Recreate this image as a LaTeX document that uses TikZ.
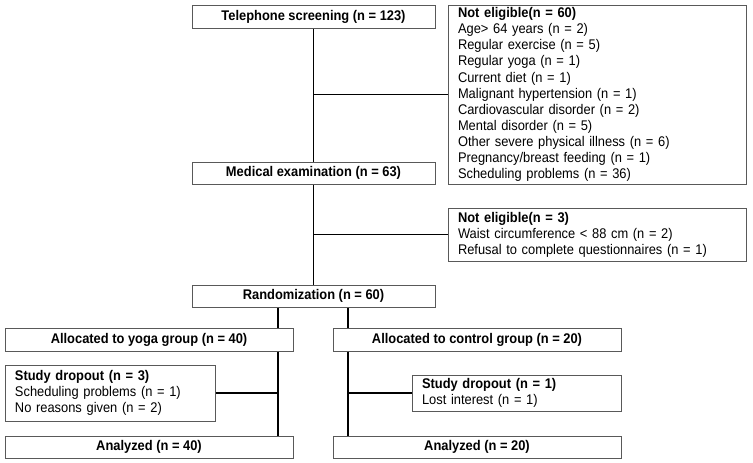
\documentclass[tikz,border=0pt]{standalone}
\usepackage{fontspec}
\setmainfont{Liberation Sans}[FakeStretch=0.92]
\begin{document}
\begin{tikzpicture}[x=1pt,y=-1pt,
  box/.style={draw=black!65, line width=1pt, rectangle, inner sep=0pt,
    font=\fontsize{14}{16.1}\selectfont, anchor=center},
  cbox/.style={box, font=\fontsize{14}{16.1}\selectfont\bfseries, align=center},
  lbox/.style={box, inner xsep=10pt, align=left},
  conn/.style={draw=black, line width=1.2pt}]
\useasboundingbox[fill=white] (0,0) rectangle (753,463);

\node[cbox, minimum width=243pt, minimum height=23pt] (tel) at (313.5,16.5) {Telephone screening (n = 123)};
\node[lbox, minimum width=298pt, minimum height=179pt, text width=278pt] (ne1) at (597,94.5)
 {\textbf{Not eligible(n = 60)}\\
  Age> 64 years (n = 2)\\
  Regular exercise (n = 5)\\
  Regular yoga (n = 1)\\
  Current diet (n = 1)\\
  Malignant hypertension (n = 1)\\
  Cardiovascular disorder (n = 2)\\
  Mental disorder (n = 5)\\
  Other severe physical illness (n = 6)\\
  Pregnancy/breast feeding (n = 1)\\
  Scheduling problems (n = 36)};
\node[cbox, minimum width=243pt, minimum height=22pt] (med) at (313.5,173) {Medical examination (n = 63)};
\node[lbox, minimum width=298pt, minimum height=53pt, text width=278pt] (ne2) at (597,234.5)
 {\textbf{Not eligible(n = 3)}\\
  Waist circumference < 88 cm (n = 2)\\
  Refusal to complete questionnaires (n = 1)};
\node[cbox, minimum width=243pt, minimum height=22pt] (rand) at (313.5,296) {Randomization (n = 60)};
\node[cbox, minimum width=288pt, minimum height=23pt] (ya) at (149,339.5) {Allocated to yoga group (n = 40)};
\node[cbox, minimum width=288pt, minimum height=23pt] (ca) at (477,339.5) {Allocated to control group (n = 20)};
\node[lbox, minimum width=210pt, minimum height=56pt, text width=190pt] (yd) at (110,393)
 {\textbf{Study dropout (n = 3)}\\
  Scheduling problems (n = 1)\\
  No reasons given (n = 2)};
\node[lbox, minimum width=209pt, minimum height=36pt, text width=189pt] (cd) at (516.5,393)
 {\textbf{Study dropout (n = 1)}\\
  Lost interest (n = 1)};
\node[cbox, minimum width=288pt, minimum height=22pt] (a40) at (149,447) {Analyzed (n = 40)};
\node[cbox, minimum width=288pt, minimum height=22pt] (a20) at (477,447) {Analyzed (n = 20)};

\coordinate (yx) at (278,0);
\coordinate (cx) at (348,0);

\draw[conn] (tel.south) -- (med.north);
\draw[conn] (ne1.west) -- (ne1.west -| tel.south);
\draw[conn] (med.south) -- (rand.north);
\draw[conn] (ne2.west) -- (ne2.west -| med.south);
\draw[conn] (yx |- rand.south) -- (yx |- ya.north);
\draw[conn] (cx |- rand.south) -- (cx |- ca.north);
\draw[conn] (yx |- ya.south) -- (yx |- a40.north);
\draw[conn] (cx |- ca.south) -- (cx |- a20.north);
\draw[conn] (yd.east) -- (yd.east -| yx);
\draw[conn] (cd.west) -- (cd.west -| cx);
\end{tikzpicture}
\end{document}
